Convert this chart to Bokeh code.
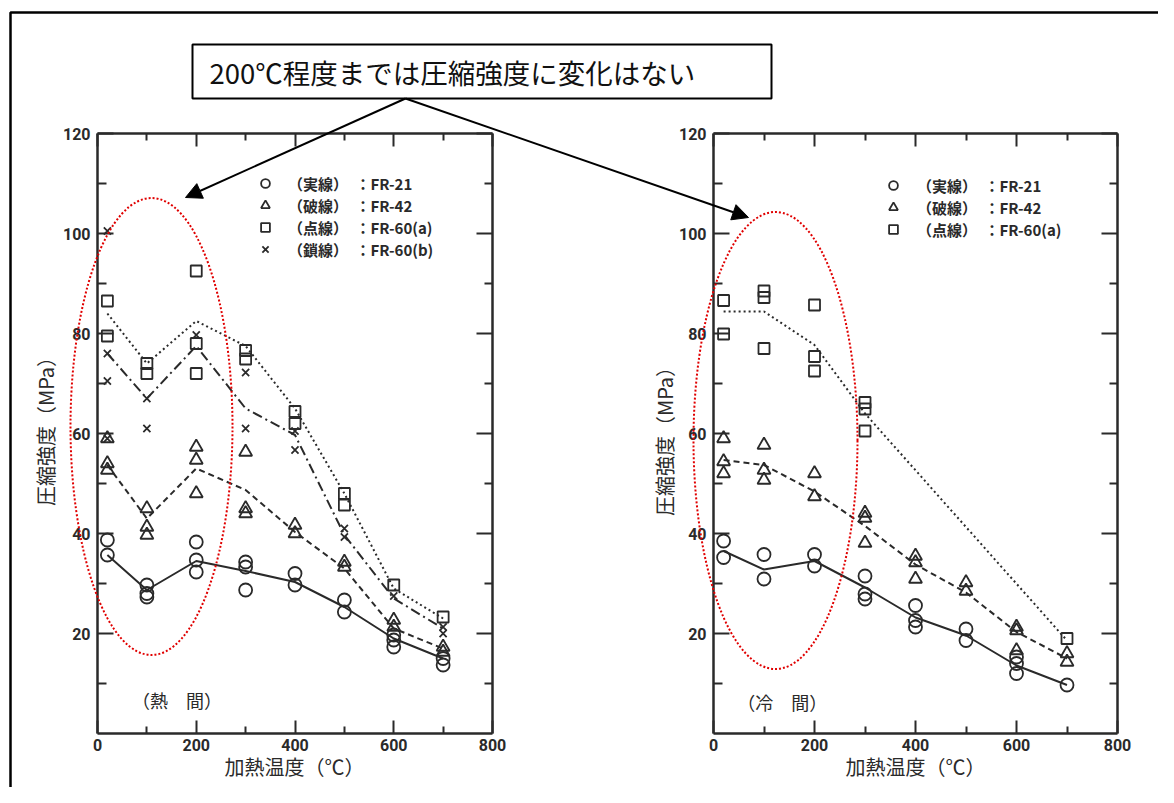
import math
from bokeh.plotting import figure
from bokeh.models import (Range1d, LinearAxis, FixedTicker, Legend, LegendItem,
                          Label, Arrow, NormalHead)
from bokeh.layouts import row, column
from bokeh.embed import file_html
from bokeh.resources import INLINE

# ---------------- data ----------------
fit_temps = [20, 100, 200, 300, 400, 500, 600, 700]

# 熱間 (hot)
hot_fr21_x = [20, 20, 100, 100, 100, 200, 200, 200, 300, 300, 300, 400, 400, 500, 500, 600, 600, 600, 700, 700]
hot_fr21_y = [38.7, 35.7, 29.7, 28.0, 27.3, 38.3, 34.7, 32.3, 34.3, 33.3, 28.7, 32.0, 29.7, 26.7, 24.3, 19.7, 18.7, 17.3, 15.0, 13.7]
hot_fr21_fit = [35.7, 28.7, 34.5, 32.5, 30.3, 25.3, 19.0, 15.0]

hot_fr42_x = [20, 20, 20, 100, 100, 100, 200, 200, 200, 300, 300, 300, 400, 400, 500, 500, 600, 600, 700, 700]
hot_fr42_y = [59.0, 54.0, 52.7, 45.0, 41.3, 39.7, 57.3, 54.7, 48.0, 56.3, 45.0, 44.0, 41.7, 40.0, 34.3, 33.3, 22.7, 21.3, 17.3, 16.3]
hot_fr42_fit = [53.7, 43.0, 53.0, 48.7, 40.3, 33.0, 21.0, 17.0]

hot_fr60a_x = [20, 20, 100, 100, 200, 200, 200, 300, 300, 400, 400, 500, 500, 600, 700]
hot_fr60a_y = [86.5, 79.5, 74.0, 72.0, 92.5, 78.0, 72.0, 76.6, 74.9, 64.4, 62.0, 48.0, 45.7, 29.7, 23.3]
hot_fr60a_fit = [84.0, 74.0, 82.5, 77.5, 65.0, 48.0, 29.0, 23.0]

hot_fr60b_x = [20, 20, 20, 20, 100, 100, 200, 300, 300, 400, 400, 500, 500, 600, 700, 700]
hot_fr60b_y = [100.5, 76.0, 70.5, 59.0, 67.0, 61.0, 79.7, 72.2, 61.0, 60.5, 56.7, 41.0, 39.3, 27.5, 21.3, 20.0]
hot_fr60b_fit = [76.0, 67.0, 77.5, 65.0, 59.7, 39.7, 27.0, 21.0]

# 冷間 (cold)
cold_fr21_x = [20, 20, 100, 100, 200, 200, 300, 300, 300, 400, 400, 400, 500, 500, 600, 600, 600, 700]
cold_fr21_y = [38.5, 35.2, 35.8, 30.9, 35.8, 33.5, 31.5, 27.9, 26.9, 25.6, 22.6, 21.3, 20.9, 18.6, 15.3, 14.0, 12.0, 9.7]
cold_fr21_fit = [36.5, 32.8, 34.5, 29.2, 23.2, 19.6, 13.6, 9.7]

cold_fr42_x = [20, 20, 20, 100, 100, 100, 200, 200, 300, 300, 300, 400, 400, 400, 500, 500, 600, 600, 600, 700, 700]
cold_fr42_y = [59.0, 54.4, 52.0, 57.7, 52.7, 50.7, 52.0, 47.4, 44.1, 43.1, 38.1, 35.5, 34.2, 30.9, 30.2, 28.5, 21.3, 20.6, 16.6, 16.0, 14.3]
cold_fr42_fit = [54.7, 53.7, 48.4, 41.5, 33.8, 28.2, 20.3, 15.0]

cold_fr60a_x = [20, 20, 100, 100, 100, 200, 200, 200, 300, 300, 300, 700]
cold_fr60a_y = [86.6, 79.9, 88.5, 87.2, 77.0, 85.7, 75.4, 72.5, 66.2, 64.9, 60.5, 19.0]
cold_fr60a_fit_x = [20, 100, 200, 300, 700]
cold_fr60a_fit = [84.4, 84.4, 77.7, 64.0, 18.6]

legend_labels = ["（実線）　：FR-21", "（破線）　：FR-42", "（点線）　：FR-60(a)", "（鎖線）　：FR-60(b)"]

x_major = [0, 200, 400, 600, 800]
x_minor = [100, 300, 500, 700]
y_major = [20, 40, 60, 80, 100, 120]
y_minor = [10, 30, 50, 70, 90, 110]

x_title = "加熱温度（℃）"
y_title = "圧縮強度（MPa）"
note_text = "200℃程度までは圧縮強度に変化はない"

# ---------------- style ----------------
INK = "#2a2a2a"
CJK = "Noto Sans CJK JP"
NUM = "Roboto"
W, H = 1158, 787

MARK = {
    "FR-21": dict(marker="circle", size=13),
    "FR-42": dict(marker="triangle", size=13),
    "FR-60a": dict(marker="square", size=11),
    "FR-60b": dict(marker="x", size=10),
}
DASH = {"FR-21": "solid", "FR-42": "6 4", "FR-60a": "2 3", "FR-60b": "10 4 2 4"}


def style_axis(ax, major_in, minor_in, labels):
    ax.axis_line_width = 2.5
    ax.axis_line_color = INK
    ax.major_tick_in = major_in
    ax.major_tick_out = 0
    ax.minor_tick_in = minor_in
    ax.minor_tick_out = 0
    ax.major_tick_line_width = 2
    ax.minor_tick_line_width = 2
    ax.major_tick_line_color = INK
    ax.minor_tick_line_color = INK
    if labels:
        ax.major_label_text_font = NUM
        ax.major_label_text_font_style = "bold"
        ax.major_label_text_font_size = "16px"
        ax.major_label_text_color = INK
    else:
        ax.major_label_text_color = None
        ax.major_label_text_font_size = "8px"
        ax.major_label_standoff = 0


def make_panel(width, mb, series, legend_loc, standoff, tag, tag_pos):
    p = figure(width=width, height=H, x_range=Range1d(0, 800), y_range=Range1d(0, 120),
               output_backend="svg", toolbar_location=None,
               x_axis_location=None, y_axis_location=None,
               min_border_left=mb[0], min_border_right=mb[1],
               min_border_top=mb[2], min_border_bottom=mb[3])
    p.outline_line_color = None
    p.grid.visible = False

    xt = FixedTicker(ticks=x_major, minor_ticks=x_minor)
    yt = FixedTicker(ticks=y_major, minor_ticks=y_minor)

    bottom = LinearAxis(ticker=xt)
    style_axis(bottom, 13, 7, True)
    bottom.major_label_standoff = 5
    p.add_layout(bottom, "below")

    left = LinearAxis(ticker=yt)
    style_axis(left, 16, 9, True)
    left.major_label_standoff = 7
    p.add_layout(left, "left")

    top = LinearAxis(ticker=xt)
    style_axis(top, 13, 7, False)
    p.add_layout(top, "above")

    right = LinearAxis(ticker=yt)
    style_axis(right, 16, 8, False)
    p.add_layout(right, "right")

    items = []
    for key, label, xs, ys, fx, fy in series:
        p.line(fx, fy, line_color=INK, line_width=2, line_dash=DASH[key])
        r = p.scatter(xs, ys, fill_color=None, line_color=INK, line_width=1.8, **MARK[key])
        items.append(LegendItem(label=label, renderers=[r]))

    leg = Legend(items=items, location=legend_loc, orientation="vertical",
                 background_fill_alpha=0, border_line_color=None,
                 label_text_font=CJK, label_text_font_size="15px",
                 label_text_font_style="bold", label_text_color=INK,
                 glyph_width=22, glyph_height=22, label_standoff=standoff,
                 padding=0, margin=0, spacing=0, label_height=22)
    p.add_layout(leg, "center")

    p.add_layout(Label(x=tag_pos[0], y=tag_pos[1], text=tag, text_font=CJK,
                       text_font_size="18px", text_color=INK, text_baseline="middle"))
    return p


hot_series = [
    ("FR-21", legend_labels[0], hot_fr21_x, hot_fr21_y, fit_temps, hot_fr21_fit),
    ("FR-42", legend_labels[1], hot_fr42_x, hot_fr42_y, fit_temps, hot_fr42_fit),
    ("FR-60a", legend_labels[2], hot_fr60a_x, hot_fr60a_y, fit_temps, hot_fr60a_fit),
    ("FR-60b", legend_labels[3], hot_fr60b_x, hot_fr60b_y, fit_temps, hot_fr60b_fit),
]
cold_series = [
    ("FR-21", legend_labels[0], cold_fr21_x, cold_fr21_y, fit_temps, cold_fr21_fit),
    ("FR-42", legend_labels[1], cold_fr42_x, cold_fr42_y, fit_temps, cold_fr42_fit),
    ("FR-60a", legend_labels[2], cold_fr60a_x, cold_fr60a_y, cold_fr60a_fit_x, cold_fr60a_fit),
]

# left panel: frame x 97..492, y 133..733 ; right panel: frame x 713..1117, y 132..740
left_fig = make_panel(592, (97, 100, 133, 54), hot_series, (157, 473), 12,
                      "（熱　間）", (70, 6.8))
right_fig = make_panel(566, (121, 41, 132, 47), cold_series, (169, 493), 13,
                       "（冷　間）", (47, 6.3))

# ---------------- overlay (callout, arrows, ellipses, page frame, axis titles) ----------------
ov = figure(width=W, height=H, x_range=Range1d(0, W), y_range=Range1d(H, 0),
            output_backend="svg", toolbar_location=None, min_border=0,
            x_axis_location=None, y_axis_location=None,
            background_fill_color=None, border_fill_color=None, outline_line_color=None)
ov.grid.visible = False

FRAME = dict(x=[10, 10, W], y=[H, 12, 12])
BOX = dict(left=192, right=771, top=44, bottom=98)
ARROW_FROM = (405, 98)
ARROW_TO = [(185, 197), (748, 217)]
ELL = dict(x=[151, 775], y=[426, 440], width=[162, 164], height=[457, 457])
X_TITLE_POS = [(294, 766), (915, 766)]
Y_TITLE_POS = [(45, 426), (664, 436)]

ov.line(FRAME["x"], FRAME["y"], line_color="black", line_width=2.5)
ov.quad(fill_color="white", line_color="black", line_width=2, **BOX)
ov.add_layout(Label(x=209, y=71, text=note_text, text_font=CJK, text_font_size="27.5px",
                    text_color="#111111", text_baseline="middle", text_align="left"))
for tx, ty in ARROW_TO:
    ov.add_layout(Arrow(end=NormalHead(size=16, fill_color="black", line_color="black"),
                        x_start=ARROW_FROM[0], y_start=ARROW_FROM[1], x_end=tx, y_end=ty,
                        line_color="black", line_width=2))
ov.ellipse(fill_color=None, line_color="#e00000", line_width=2, line_dash="2 2", **ELL)
for tx, ty in X_TITLE_POS:
    ov.add_layout(Label(x=tx, y=ty, text=x_title, text_font=CJK, text_font_size="20px",
                        text_color=INK, text_align="center", text_baseline="middle"))
for tx, ty in Y_TITLE_POS:
    ov.add_layout(Label(x=tx, y=ty, text=y_title, angle=math.pi / 2, text_font=CJK,
                        text_font_size="20px", text_color=INK,
                        text_align="center", text_baseline="middle"))
ov.styles = {"position": "absolute", "z-index": "10"}

layout = column(ov, row(left_fig, right_fig, spacing=0), spacing=0)

open("out.html", "w").write(file_html(layout, INLINE))
